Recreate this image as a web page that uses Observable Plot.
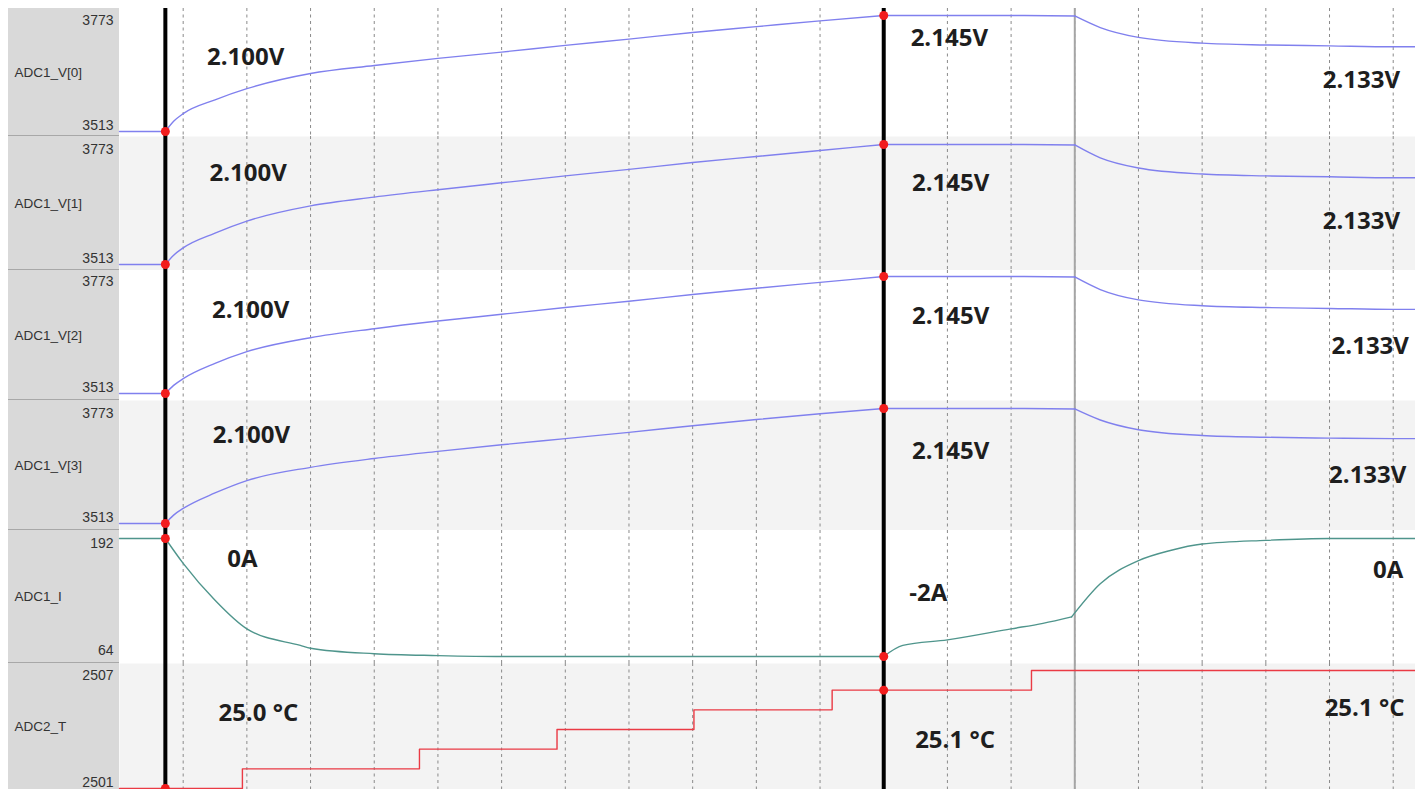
<!DOCTYPE html>
<html>
<head>
<meta charset="utf-8">
<script src="https://cdn.jsdelivr.net/npm/d3@7"></script>
<script src="https://cdn.jsdelivr.net/npm/@observablehq/plot@0.6"></script>
<style>
html, body { margin: 0; padding: 0; background: #fff; overflow: hidden; }
#chart { padding-top: 8px; width: 1415px; }
#chart svg { display: block; }
</style>
</head>
<body>
<div id="chart"></div>
<script>
// ---- lanes ----
const laneNames = ["ADC1_V[0]", "ADC1_V[1]", "ADC1_V[2]", "ADC1_V[3]", "ADC1_I", "ADC2_T"];
const laneMin = [3513, 3513, 3513, 3513, 64, 2501];
const laneMax = [3773, 3773, 3773, 3773, 192, 2507];

// ---- voltage channels (raw ADC counts) ----
const tV = [0, 0.72, 0.85, 1, 1.5, 2, 3, 4, 5, 6, 7, 8, 9, 10, 11, 12, 13, 14, 15, 15.4, 16, 17, 18, 19, 20, 20.35];
const v0 = [3513, 3513, 3536, 3553, 3584, 3609, 3643, 3661, 3677, 3691, 3706, 3720, 3735, 3748, 3761, 3773, 3773, 3773, 3772, 3746, 3724, 3711, 3707, 3705, 3703, 3703];
const v1 = [3513, 3513, 3533, 3549, 3581, 3607, 3640, 3659, 3675, 3690, 3705, 3719, 3734, 3747, 3760, 3773, 3773, 3773, 3772, 3744, 3722, 3709, 3705, 3703, 3701, 3701];
const v2 = [3513, 3513, 3531, 3546, 3580, 3606, 3637, 3657, 3674, 3689, 3704, 3718, 3733, 3747, 3760, 3773, 3773, 3773, 3772, 3744, 3721, 3708, 3704, 3702, 3700, 3700];
const v3 = [3513, 3513, 3532, 3547, 3582, 3610, 3640, 3660, 3676, 3691, 3705, 3719, 3734, 3748, 3761, 3773, 3773, 3773, 3772, 3747, 3725, 3712, 3708, 3706, 3705, 3705];

// ---- current channel ----
const tI = [0, 0.72, 1, 1.5, 2, 2.84, 3, 4, 5, 6, 12, 12.3, 13, 14, 14.5, 14.95, 15.4, 16, 16.5, 17, 18, 19, 20.35];
const iVals = [192, 192, 165, 125, 94, 76, 73, 67, 65, 64, 64, 76, 82, 94, 100, 107, 143, 168, 179, 186, 190, 192, 192];

// ---- temperature channel (steps) ----
const tT = [0, 0.72, 1.93, 4.71, 6.87, 9.02, 11.19, 12, 14.32, 20.35];
const tempVals = [2501, 2501, 2502, 2503, 2504, 2505, 2506, 2506, 2507, 2507];

// ---- cursors, marker, grid ----
const cursorTimes = [0.72, 12];
const markerTimes = [15];
const gridTicks = [1, 2, 3, 4, 5, 6, 7, 8, 9, 10, 11, 12, 13, 14, 15, 16, 17, 18, 19, 20];

// ---- annotations ----
const annotLane = [0, 0, 0, 1, 1, 1, 2, 2, 2, 3, 3, 3, 4, 4, 4, 5, 5, 5];
const annotT = [1.98, 13.03, 19.5, 2.02, 13.05, 19.5, 2.06, 13.05, 19.64, 2.07, 13.05, 19.6, 1.93, 12.7, 19.92, 2.18, 13.12, 19.55];
const annotV = [3679, 3721, 3627, 3710, 3689, 3606, 3697, 3684, 3617, 3712, 3676, 3622, 169, 133, 157, 2504.81, 2503.44, 2505.07];
const annotText = ["2.100V", "2.145V", "2.133V", "2.100V", "2.145V", "2.133V", "2.100V", "2.145V", "2.133V", "2.100V", "2.145V", "2.133V", "0A", "-2A", "0A", "25.0 °C", "25.1 °C", "25.1 °C"];

// ---- assemble ----
const seriesT = [tV, tV, tV, tV, tI, tT];
const seriesV = [v0, v1, v2, v3, iVals, tempVals];
const seriesColor = ["#8080ee", "#8080ee", "#8080ee", "#8080ee", "#4f958c", "#ea3a44"];
const laneBg = ["#ffffff", "#f3f3f3", "#ffffff", "#f3f3f3", "#ffffff", "#f3f3f3"];
const laneHeight = [128, 134, 130, 130, 133, 126];
const laneInsetTop = [7, 8, 6, 8, 8, 7];
const laneInsetBottom = [5, 6, 7, 7, 7, 1];

const chart = document.getElementById("chart");

laneNames.forEach((name, i) => {
  const rows = seriesT[i].map((t, j) => ({t, v: seriesV[i][j]}));
  const cursorRows = rows.filter(d => cursorTimes.includes(d.t));
  const annots = annotLane.map((l, k) => ({l, t: annotT[k], v: annotV[k], label: annotText[k]})).filter(d => d.l === i);
  const last = i === laneNames.length - 1;
  const panelBg = (last ? "" : "linear-gradient(#a8a8a8,#a8a8a8) 8px 100% / 111px 1px no-repeat, ") +
    "linear-gradient(#d9d9d9,#d9d9d9) 8px 0 / 111px 100% no-repeat, #ffffff";

  // split smooth curves at cursor / marker breakpoints so kinks stay sharp
  const breaks = [0.72, 12, 15];
  const segs = [];
  if (i === 5) {
    segs.push(rows);
  } else {
    let cur = [];
    rows.forEach(d => {
      cur.push(d);
      if (breaks.includes(d.t) || (i === 4 && d.t === 14.95)) { segs.push(cur); cur = [d]; }
    });
    if (cur.length > 1) segs.push(cur);
  }
  const lineMarks = segs.map(s => Plot.line(s, {
    x: "t", y: "v", stroke: seriesColor[i], strokeWidth: 1.4,
    curve: i === 5 ? "step-after" : "monotone-x"
  }));

  const plot = Plot.plot({
    width: 1415,
    height: laneHeight[i],
    marginLeft: 119,
    marginRight: 0,
    marginTop: 0,
    marginBottom: 0,
    x: {domain: [0, 20.35], axis: null},
    y: {domain: [laneMin[i], laneMax[i]], insetTop: laneInsetTop[i], insetBottom: laneInsetBottom[i], axis: null},
    style: {
      background: panelBg,
      fontFamily: "'Liberation Sans', Arial, sans-serif",
      fontSize: "14px",
      color: "#333"
    },
    marks: [
      Plot.frame({fill: laneBg[i], stroke: "none"}),
      Plot.ruleX(gridTicks, {stroke: "#8a8a8a", strokeWidth: 1, strokeDasharray: "3,3.5"}),
      Plot.ruleX(markerTimes, {stroke: "#a5a5a5", strokeWidth: 2}),
      ...lineMarks,
      Plot.ruleX(cursorTimes, {stroke: "#000", strokeWidth: 4}),
      Plot.dot(cursorRows, {x: "t", y: "v", r: 4.5, fill: "#f21d1d", stroke: "none"}),
      Plot.axisY([laneMax[i]], {anchor: "left", label: null, tickSize: 0, tickPadding: 6, dy: 5, tickFormat: "d", fontSize: 14, fill: "#333"}),
      Plot.axisY([laneMin[i]], {anchor: "left", label: null, tickSize: 0, tickPadding: 6, dy: -6, tickFormat: "d", fontSize: 14, fill: "#333"}),
      Plot.text([name], {frameAnchor: "left", dx: -105, textAnchor: "start", fontSize: 13.5, fill: "#333"}),
      Plot.text(annots, {x: "t", y: "v", text: "label", fontSize: 24, fontWeight: 700, fontFamily: "'Open Sans', sans-serif", fill: "#1e1e1e"})
    ]
  });
  chart.appendChild(plot);
});
</script>
</body>
</html>
